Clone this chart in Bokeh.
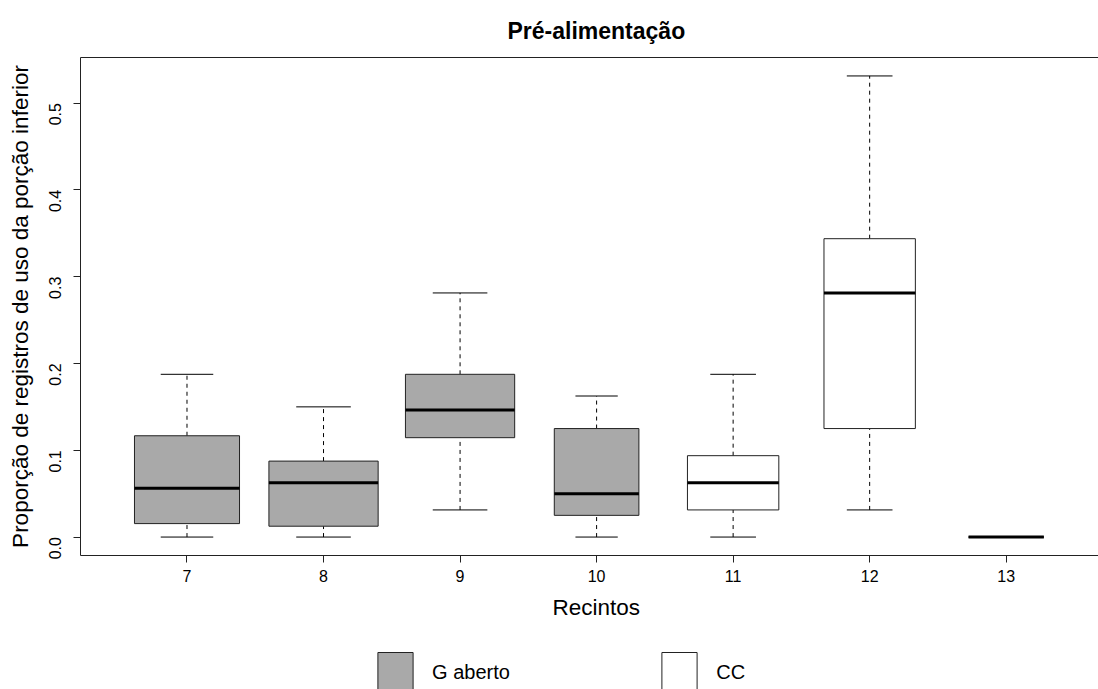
import math
import numpy as np
from bokeh.plotting import figure
from bokeh.layouts import column
from bokeh.models import (ColumnDataSource, FixedTicker, NumeralTickFormatter, Title,
                          Legend, LegendItem, LinearAxis)
from bokeh.embed import file_html
from bokeh.resources import INLINE

# ---- data ----
recintos = [7, 8, 9, 10, 11, 12, 13]
grupo = ["G aberto", "G aberto", "G aberto", "G aberto", "CC", "CC", "CC"]
lower = [0.0, 0.0, 0.03125, 0.0, 0.0, 0.03125, 0.0]
q1 = [0.0155, 0.0125, 0.1145, 0.025, 0.03125, 0.125, 0.0]
median = [0.0563, 0.0625, 0.1465, 0.05, 0.0625, 0.28125, 0.0]
q3 = [0.1167, 0.0875, 0.1875, 0.125, 0.09375, 0.34375, 0.0]
upper = [0.1875, 0.15, 0.28125, 0.1625, 0.1875, 0.53125, 0.0]
n_obs = [37, 40, 40, 24, 28, 28, 19]   # varwidth box sizes
y_ticks = [0.0, 0.1, 0.2, 0.3, 0.4, 0.5]
legend_labels = ["G aberto", "CC"]
title_text = "Pré-alimentação"
xlab = "Recintos"
ylab = "Proporção de registros de uso da porção inferior"

group_colors = {"G aberto": "#A9A9A9", "CC": "#FFFFFF"}

FONT = "Liberation Sans"
EDGE = "#222222"

x = np.array(recintos, dtype=float)
w = 0.8 * np.sqrt(np.array(n_obs) / max(n_obs))
src = ColumnDataSource(dict(
    x=x, w=w, lower=lower, q1=q1, med=median, q3=q3, upper=upper,
    left=x - w / 2, right=x + w / 2, cl=x - w / 4, cr=x + w / 4,
    color=[group_colors[g] for g in grupo], grupo=grupo,
))

p = figure(width=1098, height=640, x_range=(6.22, 13.676), y_range=(-0.02125, 0.5525),
           output_backend="svg", toolbar_location=None,
           min_border_left=80, min_border_right=0, min_border_top=57, min_border_bottom=85)
p.outline_line_color = None
p.xgrid.visible = False
p.ygrid.visible = False
p.background_fill_color = "white"
p.border_fill_color = "white"

# whiskers
p.segment("x", "q3", "x", "upper", source=src, line_color="black", line_width=1, line_dash="4 4")
p.segment("x", "lower", "x", "q1", source=src, line_color="black", line_width=1, line_dash="4 4")
# caps
p.segment("cl", "upper", "cr", "upper", source=src, line_color="black", line_width=1)
p.segment("cl", "lower", "cr", "lower", source=src, line_color="black", line_width=1)
# boxes
boxes = p.vbar(x="x", width="w", top="q3", bottom="q1", source=src,
               fill_color="color", line_color=EDGE, line_width=1)
# medians
p.segment("left", "med", "right", "med", source=src, line_color="black", line_width=3)

# axes
xa = p.xaxis[0]
xa.ticker = FixedTicker(ticks=recintos)
xa.axis_line_color = EDGE
xa.major_tick_out = 7
xa.major_tick_in = 0
xa.minor_tick_line_color = None
xa.major_tick_line_color = EDGE
xa.major_label_text_font = FONT
xa.major_label_text_font_size = "16px"
xa.major_label_text_color = "black"
xa.major_label_standoff = 7

ya = p.yaxis[0]
ya.ticker = FixedTicker(ticks=y_ticks)
ya.formatter = NumeralTickFormatter(format="0.0")
ya.axis_line_color = EDGE
ya.major_tick_out = 7
ya.major_tick_in = 0
ya.minor_tick_line_color = None
ya.major_tick_line_color = EDGE
ya.major_label_text_font = FONT
ya.major_label_text_font_size = "16px"
ya.major_label_text_color = "black"
ya.major_label_orientation = math.pi / 2
ya.major_label_standoff = 18
ya.axis_label = ylab
ya.axis_label_text_font = FONT
ya.axis_label_text_font_size = "22.5px"
ya.axis_label_text_font_style = "normal"
ya.axis_label_text_color = "black"
ya.axis_label_standoff = 8

# top frame line
top = LinearAxis(ticker=FixedTicker(ticks=[]), major_label_text_font_size="0px",
                 major_tick_line_color=None, minor_tick_line_color=None,
                 axis_line_color=EDGE)
p.add_layout(top, "above")

# main title
p.title.text = title_text
p.title.align = "left"
p.title.offset = 427
p.title.standoff = 27
p.title.text_font = FONT
p.title.text_font_size = "23px"
p.title.text_font_style = "bold"
p.title.text_color = "black"

# x label as a title below the axis
p.add_layout(Title(text=xlab, align="left", offset=472, standoff=17, text_font=FONT,
                   text_font_size="22.5px", text_font_style="normal",
                   text_color="black"), "below")

# legend strip below the plot (its frame is aligned with the main frame by the column)
p2 = figure(width=1098, height=49, x_range=(0, 1018), y_range=(0, 49),
            output_backend="svg", toolbar_location=None, min_border=0)
p2.axis.visible = False
p2.grid.visible = False
p2.outline_line_color = None
p2.background_fill_color = "white"
p2.border_fill_color = "white"

def make_legend(label, vx):
    r = p2.rect(x=[float("nan")], y=[float("nan")], width=1, height=1,
                fill_color=group_colors[label], line_color=EDGE, line_width=1)
    lg = Legend(items=[LegendItem(label=label, renderers=[r])],
                location=(vx, -8), orientation="horizontal",
                glyph_width=44, glyph_height=50, label_height=50,
                label_standoff=15, padding=0, margin=0, spacing=0,
                border_line_color=None, background_fill_alpha=0,
                label_text_font=FONT, label_text_font_size="20px", label_text_color="black")
    p2.add_layout(lg, "center")

make_legend(legend_labels[0], 293.1)
make_legend(legend_labels[1], 577.3)

open("out.html", "w").write(file_html(column(p, p2, spacing=0), INLINE))
